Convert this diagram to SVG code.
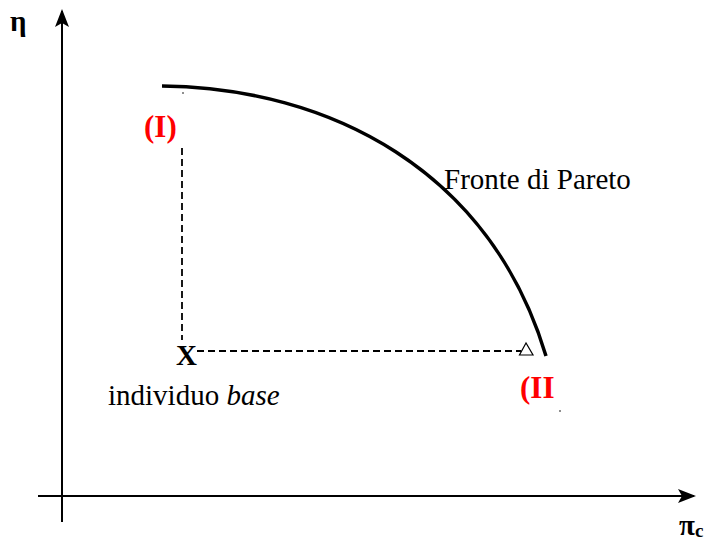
<svg xmlns="http://www.w3.org/2000/svg" width="706" height="543" viewBox="0 0 706 543">
<style>
.t{font-family:"Liberation Serif",serif;font-size:29px;fill:#000}
.r{font-family:"Liberation Serif",serif;font-size:31px;font-weight:bold;fill:#ff0000}
.ax{stroke:#000;stroke-width:2;fill:none}
.d{stroke:#000;stroke-width:1.8;stroke-dasharray:7,4;fill:none}
</style>
<defs>
<marker id="ah" markerWidth="18" markerHeight="14" refX="16" refY="7" orient="auto" markerUnits="userSpaceOnUse">
<path d="M0,0 L18,7 L0,14 L4,7 Z" fill="#000"/>
</marker>
</defs>
<rect width="706" height="543" fill="#fff"/>
<g id="connectors">
<line class="ax" x1="62" y1="522" x2="62" y2="11" marker-end="url(#ah)"/>
<line class="ax" x1="38" y1="496" x2="694" y2="496" marker-end="url(#ah)"/>
<path id="pareto" d="M162,86 C330,88 490,170 546,356" stroke="#000" stroke-width="3.5" fill="none"/>
<line class="d" x1="182" y1="148" x2="182" y2="340"/>
<line class="d" x1="197" y1="351" x2="521" y2="351"/>
<circle cx="183" cy="93" r="0.8" fill="#000"/>
<circle cx="560" cy="411" r="0.8" fill="#000"/>
</g>
<g id="axis-labels">
<text class="t" x="10" y="31" font-weight="bold">η</text>
<text class="t" x="679" y="535" font-weight="bold">π<tspan font-size="19" dy="2">c</tspan></text>
</g>
<g id="point-I"><text class="r" x="144" y="137">(I)</text></g>
<g id="point-II">
<path d="M526,343 L519.5,355 L533,355 Z" fill="none" stroke="#000" stroke-width="1.2"/>
<text class="r" x="520" y="398">(II</text>
</g>
<g id="base">
<text class="t" x="176" y="365" font-weight="bold">X</text>
<text class="t" x="108" y="405">individuo <tspan font-style="italic">base</tspan></text>
</g>
<g id="front-label"><text class="t" x="444" y="189">Fronte di Pareto</text></g>
</svg>
